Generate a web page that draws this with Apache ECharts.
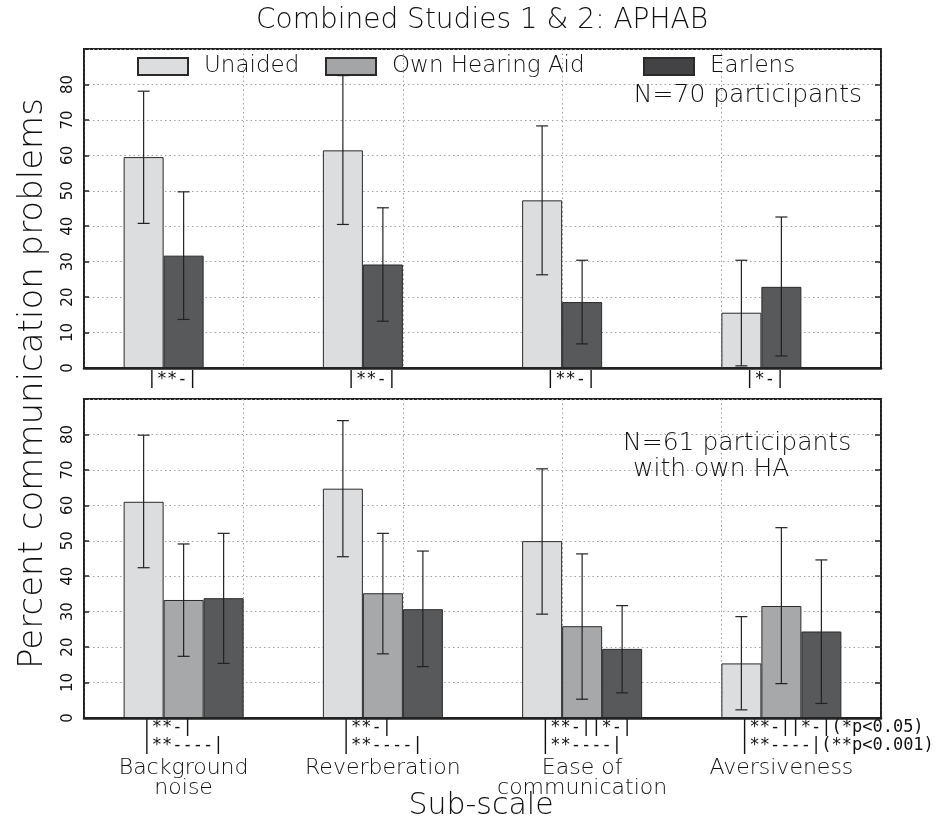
<!DOCTYPE html>
<html><head><meta charset="utf-8">
<script src="https://cdn.jsdelivr.net/npm/echarts@6/dist/echarts.min.js"></script>
<style>html,body{margin:0;padding:0;background:#fff}#c{width:946px;height:820px}</style>
</head><body><div id="c"></div>
<script>
// ---------- data ----------
const categories = ['Background\nnoise', 'Reverberation', 'Ease of\ncommunication', 'Aversiveness'];
const seriesNames = ['Unaided', 'Own Hearing Aid', 'Earlens'];
const yTicks = [0, 10, 20, 30, 40, 50, 60, 70, 80];

// Top panel: N=70 participants (means, upper and lower error-bar ends)
const topUnaided   = [59.5, 61.4, 47.3, 15.6];
const topUnaidedHi = [78.1, 82.5, 68.3, 30.4];
const topUnaidedLo = [40.8, 40.5, 26.3, 0.6];
const topEarlens   = [31.7, 29.2, 18.6, 22.9];
const topEarlensHi = [49.7, 45.2, 30.4, 42.6];
const topEarlensLo = [13.7, 13.2, 6.8, 3.4];

// Bottom panel: N=61 participants with own HA
const botUnaided   = [61.0, 64.7, 49.9, 15.4];
const botUnaidedHi = [79.8, 83.9, 70.3, 28.6];
const botUnaidedLo = [42.4, 45.5, 29.3, 2.3];
const botOwnHA     = [33.3, 35.2, 25.9, 31.6];
const botOwnHAHi   = [49.1, 52.1, 46.3, 53.7];
const botOwnHALo   = [17.4, 18.1, 5.3, 9.7];
const botEarlens   = [33.8, 30.7, 19.5, 24.4];
const botEarlensHi = [52.1, 47.1, 31.7, 44.6];
const botEarlensLo = [15.4, 14.5, 7.1, 4.1];

// significance annotations
const topSig  = ['|**-|', '|**-|', '|**-|', '|*-|'];
const botSig1 = ['|**-|', '|**-|', '|**-||*-|', '|**-||*-|(*p<0.05)'];
const botSig2 = ['|**----|', '|**----|', '|**----|', '|**----|(**p<0.001)'];

const titleText = 'Combined Studies 1 & 2: APHAB';
const yName = 'Percent communication problems';
const xName = 'Sub-scale';
const note1 = 'N=70 participants';
const note2a = 'N=61 participants';
const note2b = 'with own HA';

// ---------- style ----------
const FONT = "'DejaVu Sans', 'Liberation Sans', sans-serif";
const MONO = "'DejaVu Sans Mono', 'Liberation Mono', monospace";
const FW = 200;
const BW = 40;
const COL = { 'Unaided': '#dcdddf', 'Own Hearing Aid': '#a7a8aa', 'Earlens': '#58595b' };
const LEGEND_COL = { 'Unaided': '#dcdddf', 'Own Hearing Aid': '#a4a5a7', 'Earlens': '#434345' };
const GRID_L = 84, GRID_R = 65;
const DOT = { type: [1.5, 3], color: '#a0a0a0', width: 1 };

const chart = echarts.init(document.getElementById('c'), null, { renderer: 'canvas' });

function barSeries(name, data, gi) {
  return {
    type: 'bar', name, data, xAxisIndex: gi, yAxisIndex: gi * 2,
    barWidth: BW, barGap: '0%', z: 2, silent: true, animation: false,
    itemStyle: { color: COL[name], borderColor: '#2a2a2a', borderWidth: 1 }
  };
}
function errData(lo, hi, slot) { return lo.map((l, i) => [i, l, hi[i], slot]); }
function errSeries(data, gi) {
  return {
    type: 'custom', xAxisIndex: gi, yAxisIndex: gi * 2, data, z: 4, silent: true, animation: false,
    renderItem(params, api) {
      const pl = api.coord([api.value(0), api.value(1)]);
      const ph = api.coord([api.value(0), api.value(2)]);
      const x = pl[0] + (api.value(3) - 1) * BW;
      const h = 6;
      const st = { stroke: '#222', lineWidth: 1.2 };
      return { type: 'group', children: [
        { type: 'line', shape: { x1: x, y1: pl[1], x2: x, y2: ph[1] }, style: st },
        { type: 'line', shape: { x1: x - h, y1: ph[1], x2: x + h, y2: ph[1] }, style: st },
        { type: 'line', shape: { x1: x - h, y1: pl[1], x2: x + h, y2: pl[1] }, style: st }
      ]};
    }
  };
}

function yLeft(gi) {
  return {
    type: 'value', gridIndex: gi, position: 'left', min: 0, max: 90, interval: 10,
    axisLine: { show: true, lineStyle: { color: '#222', width: 1.5 } },
    axisTick: { show: true, inside: true, length: 5, lineStyle: { color: '#222', width: 1.5 } },
    axisLabel: { rotate: 90, margin: 8, fontSize: 15, fontFamily: FONT, color: '#111',
      formatter: v => (yTicks.indexOf(v) >= 0 ? String(v) : '') },
    splitLine: { show: true, lineStyle: DOT }
  };
}
function yRight(gi) {
  return {
    type: 'value', gridIndex: gi, position: 'right', min: 0, max: 90, interval: 10,
    axisLine: { show: true, lineStyle: { color: '#222', width: 1.5 } },
    axisTick: { show: true, inside: true, length: 6, lineStyle: { color: '#222', width: 1.5 } },
    axisLabel: { show: false }, splitLine: { show: false }
  };
}
function xCat(gi, showLabels) {
  return {
    type: 'category', gridIndex: gi, data: categories, z: 5,
    axisLine: { show: true, lineStyle: { color: '#222', width: 2.5 } },
    axisTick: { show: false },
    axisLabel: { show: showLabels, margin: 40, fontSize: 22, lineHeight: 20, fontFamily: FONT,
      fontWeight: FW, color: '#111', interval: 0 },
    splitLine: { show: false }
  };
}
function xGridLines(gi) {
  return {
    type: 'value', gridIndex: gi, min: 0, max: 5, interval: 1, position: 'top',
    axisLine: { show: false }, axisTick: { show: false }, axisLabel: { show: false },
    splitLine: { show: true, lineStyle: DOT }
  };
}
function legendItem(name, left) {
  return {
    data: [{ name, itemStyle: { color: LEGEND_COL[name] } }], left, top: 55, padding: 0, icon: 'rect',
    itemWidth: 50, itemHeight: 17, selectedMode: false,
    textStyle: { fontSize: 23, fontFamily: FONT, fontWeight: FW, color: '#111', padding: [0, 0, 0, 11] }
  };
}

const option = {
  backgroundColor: '#fff',
  animation: false,
  grid: [
    { left: GRID_L, right: GRID_R, top: 49, height: 319, show: true, borderColor: '#222', borderWidth: 2, outerBoundsMode: 'none' },
    { left: GRID_L, right: GRID_R, top: 399, height: 319, show: true, borderColor: '#222', borderWidth: 2, outerBoundsMode: 'none' }
  ],
  xAxis: [xCat(0, false), xCat(1, true), xGridLines(0), xGridLines(1)],
  yAxis: [yLeft(0), yRight(0), yLeft(1), yRight(1)],
  legend: [legendItem(seriesNames[0], 137), legendItem(seriesNames[1], 325), legendItem(seriesNames[2], 643)],
  series: [
    // top panel (slot order: Unaided, Earlens, empty)
    barSeries('Unaided', topUnaided, 0),
    barSeries('Earlens', topEarlens, 0),
    barSeries('Own Hearing Aid', topUnaided.map(() => null), 0),
    errSeries(errData(topUnaidedLo, topUnaidedHi, 0), 0),
    errSeries(errData(topEarlensLo, topEarlensHi, 1), 0),
    // bottom panel
    barSeries('Unaided', botUnaided, 1),
    barSeries('Own Hearing Aid', botOwnHA, 1),
    barSeries('Earlens', botEarlens, 1),
    errSeries(errData(botUnaidedLo, botUnaidedHi, 0), 1),
    errSeries(errData(botOwnHALo, botOwnHAHi, 1), 1),
    errSeries(errData(botEarlensLo, botEarlensHi, 2), 1)
  ]
};
chart.setOption(option);

// ---------- text annotations positioned from the axes ----------
function catX(gi, i) { return chart.convertToPixel({ xAxisIndex: gi }, i); }
function yPix(gi, v) { return chart.convertToPixel({ yAxisIndex: gi * 2 }, v); }
const g = [];
const txt = (text, x, y, font, align, extra) => g.push(Object.assign({
  type: 'text', x, y, silent: true,
  style: { text, font, fill: '#111', textAlign: align || 'left', textVerticalAlign: 'middle' }
}, extra || {}));

const y0top = yPix(0, 0), y0bot = yPix(1, 0);
categories.forEach((c, i) => {
  txt(topSig[i], catX(0, i) - BW + 3, y0top + 12, '17px ' + MONO);
  txt(botSig1[i], catX(1, i) - BW - 2, y0bot + 10, '17px ' + MONO);
  txt(botSig2[i], catX(1, i) - BW - 2, y0bot + 28, '17px ' + MONO);
});
const right = 946 - GRID_R;
txt(titleText, 482, 21, FW + ' 28px ' + FONT, 'center');
txt(yName, 33, (yPix(0, 90) + y0bot) / 2, FW + ' 34px ' + FONT, 'center', { rotation: Math.PI / 2 });
txt(xName, 481, 806, FW + ' 30px ' + FONT, 'center');
txt(note1, right - 19, yPix(0, 77), FW + ' 25px ' + FONT, 'right');
txt(note2a, right - 258, yPix(1, 77.5), FW + ' 25px ' + FONT, 'left');
txt(note2b, right - 248, yPix(1, 70.2), FW + ' 25px ' + FONT, 'left');
chart.setOption({ graphic: g });
</script>
</body></html>
